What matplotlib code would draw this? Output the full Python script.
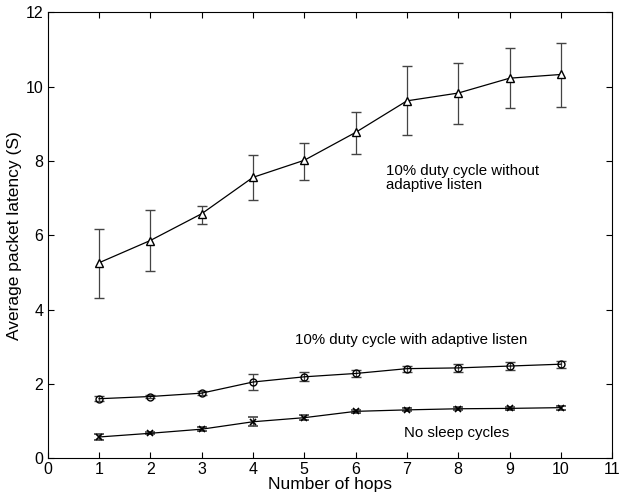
import numpy as np
import matplotlib
matplotlib.use("Agg")
import matplotlib.pyplot as plt

plt.rcParams['font.family'] = ['Liberation Sans', 'DejaVu Sans']

hops = [1, 2, 3, 4, 5, 6, 7, 8, 9, 10]

# 10% duty cycle without adaptive listen
no_adapt = [5.26, 5.86, 6.58, 7.56, 8.02, 8.77, 9.62, 9.83, 10.23, 10.33]
no_adapt_lo = [4.30, 5.04, 6.31, 6.95, 7.50, 8.20, 8.70, 9.00, 9.42, 9.46]
no_adapt_hi = [6.18, 6.67, 6.79, 8.15, 8.49, 9.32, 10.57, 10.64, 11.05, 11.18]

# 10% duty cycle with adaptive listen
adapt = [1.60, 1.66, 1.75, 2.05, 2.19, 2.28, 2.41, 2.43, 2.48, 2.53]
adapt_err = [0.07, 0.05, 0.06, 0.21, 0.12, 0.09, 0.08, 0.10, 0.10, 0.09]

# no sleep cycles
no_sleep = [0.57, 0.67, 0.78, 0.98, 1.09, 1.26, 1.30, 1.33, 1.34, 1.36]
no_sleep_err = [0.07, 0.03, 0.05, 0.12, 0.07, 0.04, 0.04, 0.04, 0.05, 0.05]

fig = plt.figure(figsize=(6.19, 4.98), dpi=100)
ax = fig.add_axes([0.077, 0.080, 0.912, 0.895])

yerr_top = [np.array(no_adapt) - np.array(no_adapt_lo),
            np.array(no_adapt_hi) - np.array(no_adapt)]

ax.errorbar(hops, no_adapt, yerr=yerr_top, color='black', ecolor='#444444',
            lw=0.9, elinewidth=0.9, capsize=3.6, capthick=0.9,
            marker='^', ms=6, mfc='white', mec='black', mew=1.0)
ax.errorbar(hops, adapt, yerr=adapt_err, color='black', ecolor='#444444',
            lw=0.9, elinewidth=0.9, capsize=3.6, capthick=0.9,
            marker='o', ms=5, mfc='none', mec='black', mew=1.0)
ax.errorbar(hops, no_sleep, yerr=no_sleep_err, color='black', ecolor='#444444',
            lw=0.9, elinewidth=0.9, capsize=3.6, capthick=0.9,
            marker='x', ms=4.5, mec='black', mew=1.2)

ax.text(6.6, 7.54, '10% duty cycle without\nadaptive listen', fontsize=10.8,
        va='center', ha='left', linespacing=1.0)
ax.text(4.82, 3.19, '10% duty cycle with adaptive listen', fontsize=10.8,
        va='center', ha='left')
ax.text(6.94, 0.69, 'No sleep cycles', fontsize=10.8, va='center', ha='left')

ax.set_xlim(0, 11)
ax.set_ylim(0, 12)
ax.set_xticks(range(0, 12))
ax.set_yticks(range(0, 13, 2))
ax.tick_params(direction='in', top=True, right=True, labelsize=11.5,
               length=4, pad=3)
ax.set_xlabel('Number of hops', fontsize=12.5, labelpad=0)
ax.set_ylabel('Average packet latency (S)', fontsize=12.5, labelpad=3)

fig.savefig('out.png', dpi=100)
